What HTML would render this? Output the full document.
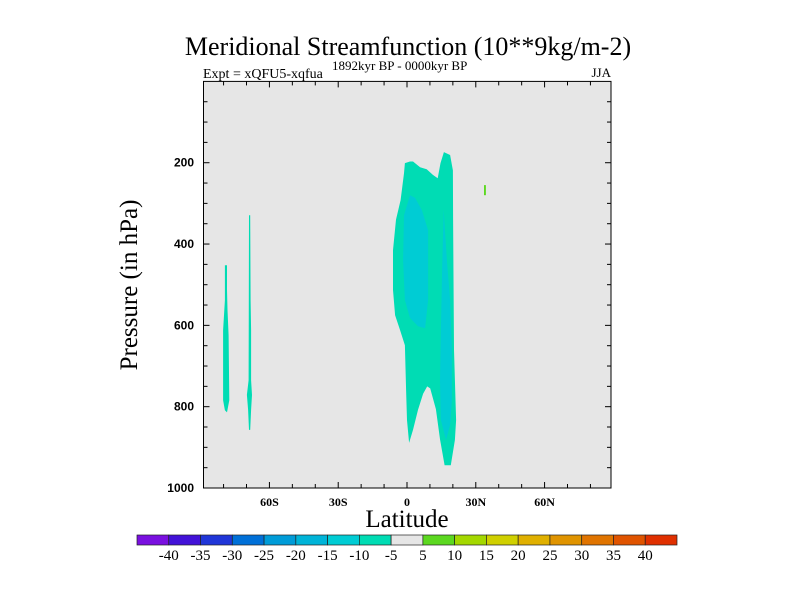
<!DOCTYPE html>
<html><head><meta charset="utf-8"><style>
body{margin:0;background:#fff;}
svg{display:block;}
text{font-family:"Liberation Serif",serif;fill:#000;}
</style></head><body>
<svg id="c" width="800" height="600" viewBox="0 0 800 600">
<text x="408" y="55" font-size="26" text-anchor="middle">Meridional Streamfunction (10**9kg/m-2)</text>
<text x="203" y="78" font-size="14">Expt = xQFU5-xqfua</text>
<text x="332" y="70" font-size="13">1892kyr BP - 0000kyr BP</text>
<text x="611" y="77" font-size="13" text-anchor="end">JJA</text>
<text x="407" y="527" font-size="25" text-anchor="middle">Latitude</text>
<text transform="translate(137,285) rotate(-90)" font-size="25" text-anchor="middle">Pressure (in hPa)</text>
</svg>
<script>
const latTicks=[-60,-30,0,30,60];
const latTickLabels=["60S","30S","0","30N","60N"];
const presTicks=[200,400,600,800,1000];
const levelLabels=["-40","-35","-30","-25","-20","-15","-10","-5","5","10","15","20","25","30","35","40"];
const levelColors=["#7a10e0","#4212d8","#2036d8","#0070d8","#009cd8","#00b4d8","#00ccd4","#00dcb4","#e6e6e6","#5cd820","#a4d800","#d0d000","#e0b000","#e09400","#e07400","#e05400","#e03000"];
// contour regions in (latitude, pressure hPa)
const regionOuterEq=[[-2.8,292],[-1.3,226],[-0.9,201],[1.3,197],[2.6,197],[5.7,211],[8.6,216],[11.3,230],[13.4,238],[14.6,201],[16.1,174],[18.8,181],[20,219],[20.1,340],[20.5,660],[21.4,833],[20.9,882],[19.1,944],[16.4,944],[14.4,880],[12.6,806],[10.1,755],[8.8,750],[7,768],[4.8,808],[2.6,857],[0.9,889],[0,833],[-0.4,760],[-0.9,649],[-3,612],[-5.2,575],[-6.1,513],[-6.1,415],[-4.8,340]];
const regionInnerLeft=[[1.3,280],[-1.3,329],[-1.7,440],[-0.9,538],[1.3,582],[4.8,602],[7.9,607],[9.2,538],[9.2,366],[6.5,317],[3.5,286]];
const regionInnerRight=[[16,316],[17.4,440],[18.8,538],[19.6,660],[19.6,784],[18.8,845],[17,882],[14.8,833],[14.4,735],[14.8,612],[15.3,464]];
const regionSouthA=[[-79.4,452],[-78.5,452],[-78.5,513],[-78.3,562],[-77.8,624],[-77.5,784],[-78.5,814],[-79.4,809],[-80.2,784],[-80.2,612],[-79.4,538]];
const regionSouthB=[[-68.9,329],[-68.4,329],[-68.2,538],[-68,612],[-68,735],[-67.6,771],[-68,808],[-68.4,857],[-68.9,857],[-69.3,808],[-69.8,771],[-69.1,735],[-69,538]];
const regionPositive=[[33.6,255],[34.4,255],[34.4,280],[33.6,280]];
const NS='http://www.w3.org/2000/svg';
const svg=document.getElementById('c');
const X0=203.5,X1=611,Y0=81.4,Y1=488;
function xs(lat){return 407+lat*2.293;}
function ys(p){return Y0+(p/1000)*(Y1-Y0);}
function mk(tag,attrs){const e=document.createElementNS(NS,tag);for(const k in attrs)e.setAttribute(k,attrs[k]);svg.appendChild(e);return e;}
const bg=mk('rect',{x:X0,y:Y0,width:X1-X0,height:Y1-Y0,fill:'#e6e6e6'});


function poly(pts,fill,name){const e=mk('polygon',{points:pts.map(p=>xs(p[0]).toFixed(1)+','+ys(p[1]).toFixed(1)).join(' '),fill:fill});

}
poly(regionOuterEq,levelColors[7],'contour-equatorial-minus5');
poly(regionInnerLeft,levelColors[6],'contour-equatorial-minus10-left');
poly(regionInnerRight,levelColors[6],'contour-equatorial-minus10-right');
poly(regionSouthA,levelColors[7],'contour-south-a');
poly(regionSouthB,levelColors[7],'contour-south-b');
poly(regionPositive,levelColors[9],'contour-positive-north');
const fr=mk('rect',{x:X0,y:Y0,width:X1-X0,height:Y1-Y0,fill:'none',stroke:'#000','stroke-width':1});


// ticks
for(let lat=-80;lat<=80;lat+=10){const major=lat%30===0;const L=major?6:4;const x=xs(lat);
mk('line',{x1:x,y1:Y1,x2:x,y2:Y1-L,stroke:'#000'});mk('line',{x1:x,y1:Y0,x2:x,y2:Y0+L,stroke:'#000'});}
for(let p=50;p<1000;p+=50){const major=p%200===0;const L=major?6:4;const y=ys(p);
mk('line',{x1:X0,y1:y,x2:X0+L,y2:y,stroke:'#000'});mk('line',{x1:X1,y1:y,x2:X1-L,y2:y,stroke:'#000'});}
latTicks.forEach((v,i)=>{const t=mk('text',{x:xs(v),y:506,'font-size':12,'font-weight':'bold','text-anchor':'middle'});t.textContent=latTickLabels[i];

});
presTicks.forEach(v=>{const t=mk('text',{x:194,y:ys(v)+4,'font-size':12,'font-weight':'bold','text-anchor':'end',style:'font-family:"Liberation Sans",sans-serif'});t.textContent=v;

});
// colorbar
const CB0=137,CB1=677,bw=(CB1-CB0)/levelColors.length;
levelColors.forEach((c,i)=>{const r=mk('rect',{x:CB0+i*bw,y:535,width:bw,height:10,fill:c,stroke:'#222','stroke-width':0.7});

});
levelLabels.forEach((s,i)=>{const t=mk('text',{x:CB0+(i+1)*bw,y:560,'font-size':15,'text-anchor':'middle'});t.textContent=s;

});
</script>
</body></html>
